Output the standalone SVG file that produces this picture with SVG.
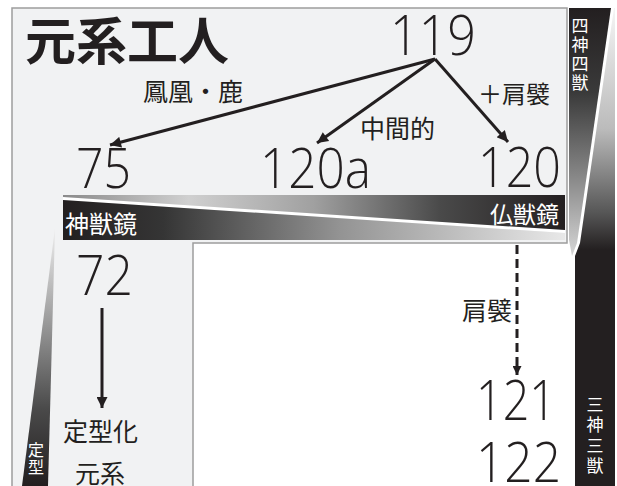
<svg xmlns="http://www.w3.org/2000/svg" width="617" height="486" viewBox="0 0 617 486">
<style>
.cjk{font-family:"Noto Sans CJK JP","Noto Sans CJK SC",sans-serif;fill:#231f20}
.lbl{font-size:25px}
.wt{fill:#ffffff}
.vt{writing-mode:vertical-rl}
.num{font-family:"Open Sans","Liberation Sans",sans-serif;font-weight:300;font-size:56px;fill:#231f20}
.conn{stroke:#231f20;stroke-width:3;fill:none}
</style>
<defs>
<marker id="ah" viewBox="0 0 10 10" refX="10" refY="5" markerWidth="13" markerHeight="11" markerUnits="userSpaceOnUse" orient="auto">
<path d="M0,0 L10,5 L0,10 Z" fill="#231f20"/>
</marker>
<marker id="ahs" viewBox="0 0 10 10" refX="10" refY="5" markerWidth="10" markerHeight="9" markerUnits="userSpaceOnUse" orient="auto">
<path d="M0,0 L10,5 L0,10 Z" fill="#231f20"/>
</marker>
<linearGradient id="gL" gradientUnits="userSpaceOnUse" x1="63" y1="0" x2="565" y2="0">
<stop offset="0" stop-color="#231f20"/><stop offset="0.2" stop-color="#353535"/><stop offset="0.55" stop-color="#939393"/><stop offset="1" stop-color="#e8e8e8"/>
</linearGradient>
<linearGradient id="gR" gradientUnits="userSpaceOnUse" x1="63" y1="0" x2="565" y2="0">
<stop offset="0" stop-color="#8a8a8a"/><stop offset="0.25" stop-color="#d0d0d0"/><stop offset="0.5" stop-color="#a0a0a0"/><stop offset="0.75" stop-color="#4a4a4a"/><stop offset="1" stop-color="#231f20"/>
</linearGradient>
<linearGradient id="gV1" gradientUnits="userSpaceOnUse" x1="0" y1="8" x2="0" y2="250">
<stop offset="0" stop-color="#231f20"/><stop offset="0.35" stop-color="#3a3a3a"/><stop offset="0.7" stop-color="#888888"/><stop offset="1" stop-color="#d0d0d0"/>
</linearGradient>
<linearGradient id="gV2" gradientUnits="userSpaceOnUse" x1="0" y1="8" x2="0" y2="250">
<stop offset="0" stop-color="#f5f5f5"/><stop offset="0.5" stop-color="#bbbbbb"/><stop offset="0.85" stop-color="#555555"/><stop offset="1" stop-color="#231f20"/>
</linearGradient>
<linearGradient id="gD" gradientUnits="userSpaceOnUse" x1="0" y1="228" x2="0" y2="486">
<stop offset="0" stop-color="#eeeeee"/><stop offset="0.3" stop-color="#aaaaaa"/><stop offset="0.7" stop-color="#4a4a4a"/><stop offset="1" stop-color="#231f20"/>
</linearGradient>
</defs>
<rect x="0" y="0" width="617" height="486" fill="#ffffff"/>
<g id="panel">
<path d="M12,8 H567 V243 H193 V488 H12 Z" fill="#f1f2f3" stroke="#9d9d9d" stroke-width="1.5"/>
</g>
<g id="band-h">
<line x1="63" y1="198.5" x2="565" y2="231.5" stroke="#ffffff" stroke-width="3"/>
<polygon points="63,195 565,195 565,230 63,197" fill="url(#gR)"/>
<polygon points="63,200 565,233 565,240 63,240" fill="url(#gL)"/>
</g>
<g id="shinjukyo"><text class="cjk wt" x="65" y="233" font-size="24">神獣鏡</text></g>
<g id="butsujukyo"><text class="cjk wt" x="490" y="223" font-size="23">仏獣鏡</text></g>
<g id="band-v">
<polygon points="569,8 611,8 577,243 572,256 569,240" fill="url(#gV1)"/>
<polygon points="615,8 615,486 575,486 575,256 580,243 614,8" fill="url(#gV2)"/>
</g>
<g id="shishin"><text class="cjk wt vt" x="580" y="17" font-size="17" letter-spacing="2">四神四獣</text></g>
<g id="sanshin"><text class="cjk wt vt" x="595" y="396" font-size="17" letter-spacing="3.5">三神三獣</text></g>
<g id="band-d">
<polygon points="22,486 48,486 55,228" fill="url(#gD)"/>
</g>
<g id="teikei"><text class="cjk wt vt" x="36" y="442" font-size="16" letter-spacing="1">定型</text></g>
<g id="title"><text class="cjk" x="25" y="60" font-size="51" font-weight="700">元系工人</text></g>
<g id="n119"><text class="num" x="390" y="55" textLength="86" lengthAdjust="spacingAndGlyphs">119</text></g>
<g id="n75"><text class="num" x="76" y="188" textLength="55" lengthAdjust="spacingAndGlyphs">75</text></g>
<g id="n120a"><text class="num" x="260" y="188" textLength="111" lengthAdjust="spacingAndGlyphs">120a</text></g>
<g id="n120"><text class="num" x="478" y="187" textLength="83" lengthAdjust="spacingAndGlyphs">120</text></g>
<g id="n72"><text class="num" x="76" y="295" textLength="57" lengthAdjust="spacingAndGlyphs">72</text></g>
<g id="n121"><text class="num" x="476" y="420" textLength="80" lengthAdjust="spacingAndGlyphs">121</text></g>
<g id="n122"><text class="num" x="476" y="482" textLength="85" lengthAdjust="spacingAndGlyphs">122</text></g>
<g id="connectors">
<line class="conn" x1="435" y1="59" x2="110" y2="145" marker-end="url(#ah)"/>
<line class="conn" x1="435" y1="59" x2="317" y2="143" marker-end="url(#ah)"/>
<line class="conn" x1="435" y1="59" x2="508" y2="142" marker-end="url(#ah)"/>
<line class="conn" x1="102" y1="308" x2="102" y2="408" stroke-width="2.5" marker-end="url(#ah)"/>
<line class="conn" x1="517" y1="245" x2="517" y2="375" stroke-dasharray="9 5" marker-end="url(#ahs)"/>
</g>
<g id="labels">
<text class="cjk lbl" x="143" y="101">鳳凰・鹿</text>
<text class="cjk lbl" x="360" y="138">中間的</text>
<text class="cjk" x="478" y="103" font-size="24">＋肩襞</text>
<text class="cjk lbl" x="462" y="320">肩襞</text>
<text class="cjk lbl" x="63" y="441">定型化</text>
<text class="cjk lbl" x="75" y="483">元系</text>
</g>
</svg>
